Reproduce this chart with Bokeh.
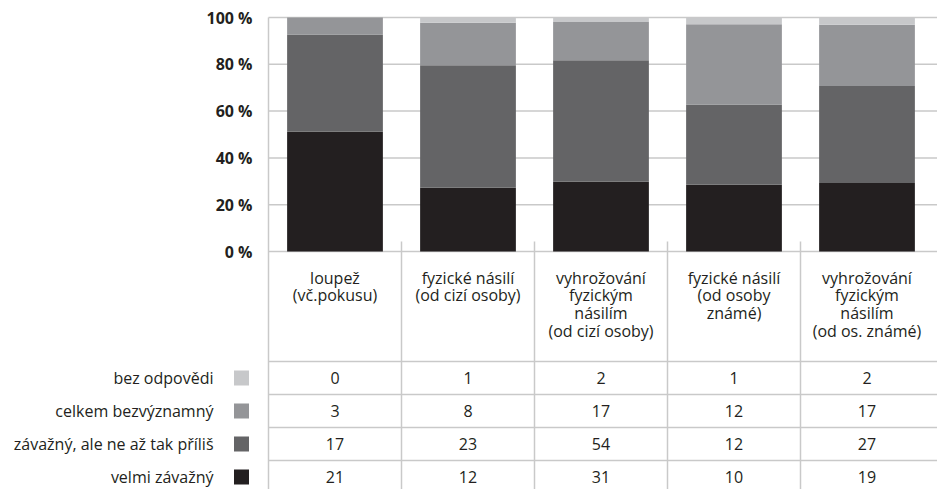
from bokeh.plotting import figure
from bokeh.models import ColumnDataSource, PrintfTickFormatter, FixedTicker, Range1d
from bokeh.core.properties import value
from bokeh.embed import file_html
from bokeh.resources import INLINE

# ---------------- data ----------------
categories = [
    "loupež\n(vč.pokusu)",
    "fyzické násilí\n(od cizí osoby)",
    "vyhrožování\nfyzickým\nnásilím\n(od cizí osoby)",
    "fyzické násilí\n(od osoby\nznámé)",
    "vyhrožování\nfyzickým\nnásilím\n(od os. známé)",
]
series_names = ["velmi závažný", "závažný, ale ne až tak příliš", "celkem bezvýznamný", "bez odpovědi"]
velmi = [21, 12, 31, 10, 19]
zavazny = [17, 23, 54, 12, 27]
celkem = [3, 8, 17, 12, 17]
bez = [0, 1, 2, 1, 2]
y_ticks = [0, 20, 40, 60, 80, 100]

# ---------------- styles / geometry ----------------
colors = ["#231f20", "#646466", "#949598", "#c7c8ca"]
text_color = "#231f20"
line_color = "#c9c9c9"
FONT = value("Open Sans")
W, H = 937, 489
TOP = 17           # px above 100 %
LEFT = 268         # px from figure left to first column
PXU = 2.34         # pixels per percentage unit
ncat = len(categories)
col_w = 133.0
x_start = -LEFT / col_w
x_end = (W - LEFT) / col_w
y_end = 100 + TOP / PXU
y_start = 100 - (H - TOP) / PXU


def py(fig_y):
    """figure pixel y -> data y (0 % is at pixel y 251)"""
    return (251 - fig_y) / PXU


def px(fig_x):
    return (fig_x - LEFT) / col_w


series = [velmi, zavazny, celkem, bez]
totals = [sum(s[i] for s in series) for i in range(ncat)]
keys = ["s0", "s1", "s2", "s3"]
data = {"x": [i + 0.5 for i in range(ncat)]}
for k, s in zip(keys, series):
    data[k] = [100.0 * v / t for v, t in zip(s, totals)]
src = ColumnDataSource(data)

p = figure(width=W, height=H, output_backend="svg", toolbar_location=None,
           x_axis_type=None, x_range=Range1d(x_start, x_end),
           y_range=Range1d(y_start, y_end),
           min_border_left=0, min_border_right=0, min_border_top=0, min_border_bottom=0,
           outline_line_color=None, background_fill_color=None, border_fill_color="white")
p.ygrid.visible = False
p.xgrid.visible = False

# y axis at x = 0
ax = p.yaxis[0]
ax.fixed_location = 0
ax.bounds = (y_start, 100)
ax.ticker = FixedTicker(ticks=y_ticks)
ax.formatter = PrintfTickFormatter(format="%d %%")
ax.major_tick_line_color = None
ax.minor_tick_line_color = None
ax.axis_line_color = line_color
ax.axis_line_width = 1.5
ax.major_label_text_font = "Open Sans"
ax.major_label_text_font_style = "bold"
ax.major_label_text_font_size = "16px"
ax.major_label_text_color = text_color
ax.major_label_standoff = 10

# horizontal gridlines across the chart columns
p.segment(x0=[0] * len(y_ticks), x1=[x_end] * len(y_ticks), y0=y_ticks, y1=y_ticks,
          line_color=line_color, line_width=1.5)

# stacked bars
p.vbar_stack(keys, x="x", width=0.72, source=src, color=colors, line_color=None)

# column dividers (from a little above 0 % down through the table)
p.segment(x0=list(range(1, ncat)), x1=list(range(1, ncat)),
          y0=[py(241)] * (ncat - 1), y1=[y_start] * (ncat - 1),
          line_color=line_color, line_width=1.5)

# table header
p.text(x=[i + 0.5 for i in range(ncat)], y=[py(266)] * ncat, text=categories,
       text_align="center", text_baseline="top", text_font=FONT,
       text_font_size="16px", text_line_height=0.81, text_color=text_color)

# table rows (top row = last series)
row_h = 33
row_top = 361
row_series = list(reversed(series))
row_names = list(reversed(series_names))
row_colors = list(reversed(colors))
hl = [py(row_top + k * row_h) for k in range(len(row_series))]
p.segment(x0=[0] * len(hl), x1=[x_end] * len(hl), y0=hl, y1=hl,
          line_color=line_color, line_width=1.5)

tx, ty, tt = [], [], []
for k, s in enumerate(row_series):
    yc = py(row_top + (k + 0.5) * row_h)
    for i, v in enumerate(s):
        tx.append(i + 0.5)
        ty.append(yc)
        tt.append(str(v))
p.text(x=tx, y=ty, text=tt, text_align="center", text_baseline="middle",
       text_font=FONT, text_font_size="16px", text_color=text_color)

ry = [py(row_top + (k + 0.5) * row_h) for k in range(len(row_series))]
p.text(x=[px(213)] * len(ry), y=ry, text=row_names, text_align="right",
       text_baseline="middle", text_font=FONT, text_font_size="16px", text_color=text_color)
p.scatter(x=[px(241)] * len(ry), y=ry, marker="square", size=15,
          fill_color=row_colors, line_color=None)

open("out.html", "w").write(file_html(p, INLINE))
